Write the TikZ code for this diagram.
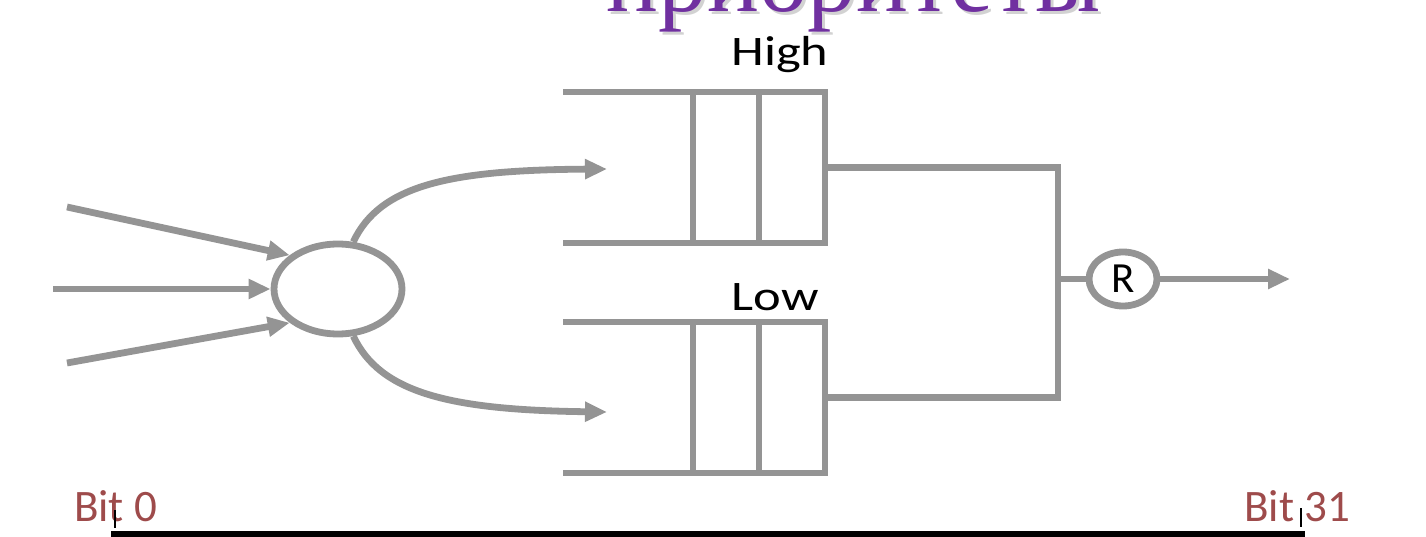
\documentclass[tikz,border=0pt]{standalone}
\usepackage{fontspec}
\setmainfont{Carlito}
\newfontfamily\titlefont{Liberation Serif}
\newfontfamily\widefont[FakeStretch=1.25]{Carlito}
\usetikzlibrary{arrows.meta,shapes.geometric}
\definecolor{lgray}{RGB}{148,148,148}
\definecolor{titlepurple}{RGB}{112,48,160}
\definecolor{bitred}{RGB}{158,75,75}
\begin{document}
\begin{tikzpicture}[x=1pt,y=-1pt,
  wire/.style={draw=lgray, line width=6.8pt},
  flow/.style={wire, -{Triangle[length=22pt,width=19pt]}},
  queuebox/.style={rectangle, draw=lgray, line width=6.8pt, minimum width=132pt, minimum height=151pt, inner sep=0pt, outer sep=0pt},
  oval/.style={ellipse, draw=lgray, line width=6.8pt, inner sep=0pt},
  qlabel/.style={font=\widefont\fontsize{42}{50}\selectfont, anchor=base, inner sep=0pt},
  bitlabel/.style={font=\fontsize{45}{54}\selectfont, text=bitred, anchor=base west, inner sep=0pt},
  titlestyle/.style={font=\titlefont\fontsize{97}{110}\selectfont, anchor=base, inner sep=0pt}]
\useasboundingbox (0,0) rectangle (1426,537);
\clip (0,0) rectangle (1426,537);
\fill[white] (0,0) rectangle (1426,537);

% title (cut off at top)
\node[titlestyle, text=black!35, opacity=0.5] (titleshadow) at (857,15) {приоритеты};
\node[titlestyle, text=titlepurple] (title) at (854,12) {приоритеты};

% classifier
\node[oval, minimum width=128pt, minimum height=90pt] (cls) at (338,289) {};
\coordinate (in1) at (67,207);
\coordinate (in2) at (53,289);
\coordinate (in3) at (67,363);
\draw[flow] (in1) -- (cls.145);
\draw[flow] (in2) -- (cls.west);
\draw[flow] (in3) -- (cls.215);

\coordinate (hin) at (607,169);
\coordinate (lin) at (607,412);
\draw[flow] (cls.72) .. controls (380,185) and (450,170) .. (hin);
\draw[flow] (cls.-72) .. controls (380,393) and (450,410) .. (lin);

% queues
\node[queuebox] (hq) at (759,167.5) {};
\draw[wire] (hq.north) -- (hq.south);
\draw[wire] (hq.north west) -- ++(-130,0);
\draw[wire] (hq.south west) -- ++(-130,0);
\node[qlabel] (high) at (780,66) {High};

\node[queuebox] (lq) at (759,397.5) {};
\draw[wire] (lq.north) -- (lq.south);
\draw[wire] (lq.north west) -- ++(-130,0);
\draw[wire] (lq.south west) -- ++(-130,0);
\node[qlabel] (low) at (775,310) {Low};

% scheduler
\coordinate (J) at (1058,279);
\draw[wire] (hq.east) -| (J) |- (lq.east);
\node[oval, minimum width=68pt, minimum height=54pt, font=\fontsize{43}{50}\selectfont] (R) at (1123,279) {R};
\draw[wire] (J) -- (R);
\coordinate (out) at (1290,279);
\draw[flow] (R) -- (out);

% bottom
\node[bitlabel] (b0) at (74,521) {Bit 0};
\node[bitlabel] (b31) at (1244,521) {Bit 31};
\draw[black, line width=1.5pt] (115,510) -- (115,528);
\draw[black, line width=1.5pt] (1301,508) -- (1301,527);
\fill[black] (111,531) rectangle (1305,537);
\end{tikzpicture}
\end{document}
